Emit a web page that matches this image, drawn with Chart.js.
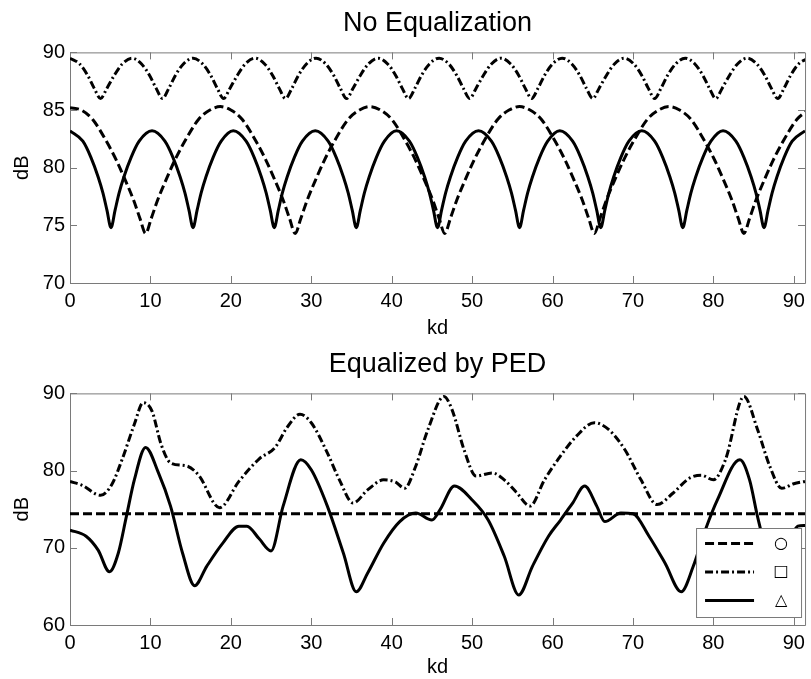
<!DOCTYPE html>
<html>
<head>
<meta charset="utf-8">
<script src="https://cdn.jsdelivr.net/npm/chart.js@4.4.1/dist/chart.umd.min.js"></script>
<style>
    html, body { margin: 0; padding: 0; background: #fff; }
    canvas { display: block; }
</style>
</head>
<body>
<canvas id="chart-top" width="811" height="340"></canvas>
<canvas id="chart-bottom" width="811" height="339"></canvas>
<script>
// --- axes ---
const kdMax = 91.4;
const kdTicks = [0, 10, 20, 30, 40, 50, 60, 70, 80, 90];
const dbTicksTop = [70, 75, 80, 85, 90];
const dbTicksBottom = [60, 70, 80, 90];

// --- No Equalization ---
const topDashKd = [0, 1.4, 2.8, 4.6, 5.8, 6.7, 7.9, 8.7, 9.4, 10.1, 10.9, 12.1, 13.0, 14.2, 16.0, 17.4, 18.7,
    20.0, 21.4, 23.2, 24.4, 25.3, 26.5, 27.3, 28.0, 28.7, 29.5, 30.7, 31.6, 32.8, 34.6, 36.0, 37.3,
    38.6, 40.0, 41.8, 43.0, 43.9, 45.1, 45.9, 46.6, 47.3, 48.1, 49.3, 50.2, 51.4, 53.2, 54.6, 55.9,
    57.2, 58.6, 60.4, 61.6, 62.5, 63.7, 64.5, 65.2, 65.9, 66.7, 67.9, 68.8, 70.0, 71.8, 73.2, 74.5,
    75.8, 77.2, 79.0, 80.2, 81.1, 82.3, 83.1, 83.8, 84.5, 85.3, 86.5, 87.4, 88.6, 90.4, 91.8];
const topDash = [85.2, 85.0, 84.2, 82.2, 80.6, 79.2, 77.2, 75.6, 74.3, 75.6, 77.2, 79.2, 80.6, 82.2, 84.2, 85.0, 85.3,
    85.0, 84.2, 82.2, 80.6, 79.2, 77.2, 75.6, 74.3, 75.6, 77.2, 79.2, 80.6, 82.2, 84.2, 85.0, 85.3,
    85.0, 84.2, 82.2, 80.6, 79.2, 77.2, 75.6, 74.3, 75.6, 77.2, 79.2, 80.6, 82.2, 84.2, 85.0, 85.3,
    85.0, 84.2, 82.2, 80.6, 79.2, 77.2, 75.6, 74.3, 75.6, 77.2, 79.2, 80.6, 82.2, 84.2, 85.0, 85.3,
    85.0, 84.2, 82.2, 80.6, 79.2, 77.2, 75.6, 74.3, 75.6, 77.2, 79.2, 80.6, 82.2, 84.2, 85.0];

const topDashDotKd = [0, 1.2, 2.2, 3.0, 3.8, 4.6, 5.5, 6.5,
    7.7, 8.9, 9.9, 10.7, 11.5, 12.3, 13.1, 14.1,
    15.3, 16.5, 17.5, 18.3, 19.1, 19.9, 20.8, 21.8,
    23.0, 24.2, 25.2, 26.0, 26.8, 27.6, 28.4, 29.4,
    30.6, 31.8, 32.8, 33.6, 34.4, 35.2, 36.1, 37.1,
    38.3, 39.5, 40.5, 41.3, 42.1, 42.9, 43.7, 44.7,
    45.9, 47.1, 48.1, 48.9, 49.7, 50.5, 51.4, 52.4,
    53.6, 54.8, 55.8, 56.6, 57.4, 58.2, 59.0, 60.0,
    61.2, 62.4, 63.4, 64.2, 65.0, 65.8, 66.7, 67.7,
    68.9, 70.1, 71.1, 71.9, 72.7, 73.5, 74.3, 75.3,
    76.5, 77.7, 78.7, 79.5, 80.3, 81.1, 82.0, 83.0,
    84.2, 85.4, 86.4, 87.2, 88.0, 88.8, 89.6, 90.6, 91.8];
const topDashDot = [89.5, 89.0, 88.0, 86.9, 86.0, 86.9, 88.0, 89.0,
    89.5, 89.0, 88.0, 86.9, 86.0, 86.9, 88.0, 89.0,
    89.5, 89.0, 88.0, 86.9, 86.0, 86.9, 88.0, 89.0,
    89.5, 89.0, 88.0, 86.9, 86.0, 86.9, 88.0, 89.0,
    89.5, 89.0, 88.0, 86.9, 86.0, 86.9, 88.0, 89.0,
    89.5, 89.0, 88.0, 86.9, 86.0, 86.9, 88.0, 89.0,
    89.5, 89.0, 88.0, 86.9, 86.0, 86.9, 88.0, 89.0,
    89.5, 89.0, 88.0, 86.9, 86.0, 86.9, 88.0, 89.0,
    89.5, 89.0, 88.0, 86.9, 86.0, 86.9, 88.0, 89.0,
    89.5, 89.0, 88.0, 86.9, 86.0, 86.9, 88.0, 89.0,
    89.5, 89.0, 88.0, 86.9, 86.0, 86.9, 88.0, 89.0,
    89.5, 89.0, 88.0, 86.9, 86.0, 86.9, 88.0, 89.0, 89.5];

const topSolidKd = [0, 1.6, 2.6, 3.5, 4.1, 4.6, 5.1, 5.6, 6.1, 6.7, 7.6, 8.6,
    10.2, 11.8, 12.8, 13.7, 14.3, 14.8, 15.3, 15.8, 16.3, 16.9, 17.8, 18.8,
    20.3, 21.9, 22.9, 23.8, 24.4, 24.9, 25.4, 25.9, 26.4, 27.0, 27.9, 28.9,
    30.5, 32.1, 33.1, 34.0, 34.6, 35.1, 35.6, 36.1, 36.6, 37.2, 38.1, 39.1,
    40.6, 42.2, 43.2, 44.1, 44.7, 45.2, 45.7, 46.2, 46.7, 47.3, 48.2, 49.2,
    50.8, 52.4, 53.4, 54.3, 54.9, 55.4, 55.9, 56.4, 56.9, 57.5, 58.4, 59.4,
    60.9, 62.5, 63.5, 64.4, 65.0, 65.5, 66.0, 66.5, 67.0, 67.6, 68.5, 69.5,
    71.1, 72.7, 73.7, 74.6, 75.2, 75.7, 76.2, 76.7, 77.2, 77.8, 78.7, 79.7,
    81.2, 82.8, 83.8, 84.7, 85.3, 85.8, 86.3, 86.8, 87.3, 87.9, 88.8, 89.8, 91.4];
const topSolid = [83.2, 82.3, 80.9, 79.2, 77.8, 76.3, 74.8, 76.3, 77.8, 79.2, 80.9, 82.3,
    83.2, 82.3, 80.9, 79.2, 77.8, 76.3, 74.8, 76.3, 77.8, 79.2, 80.9, 82.3,
    83.2, 82.3, 80.9, 79.2, 77.8, 76.3, 74.8, 76.3, 77.8, 79.2, 80.9, 82.3,
    83.2, 82.3, 80.9, 79.2, 77.8, 76.3, 74.8, 76.3, 77.8, 79.2, 80.9, 82.3,
    83.2, 82.3, 80.9, 79.2, 77.8, 76.3, 74.8, 76.3, 77.8, 79.2, 80.9, 82.3,
    83.2, 82.3, 80.9, 79.2, 77.8, 76.3, 74.8, 76.3, 77.8, 79.2, 80.9, 82.3,
    83.2, 82.3, 80.9, 79.2, 77.8, 76.3, 74.8, 76.3, 77.8, 79.2, 80.9, 82.3,
    83.2, 82.3, 80.9, 79.2, 77.8, 76.3, 74.8, 76.3, 77.8, 79.2, 80.9, 82.3,
    83.2, 82.3, 80.9, 79.2, 77.8, 76.3, 74.8, 76.3, 77.8, 79.2, 80.9, 82.3, 83.2];

// --- Equalized by PED ---
const botDashKd = [0, 91.4];
const botDash = [74.4, 74.4];

const botDashDotKd = [0, 1.5, 3.8, 5.2, 6.5, 8, 9.1, 10.2, 11.3, 12.5, 14.5, 16, 18.6, 21, 23.5, 25.5, 27, 28.6,
    30, 32, 33.5, 35.2, 37, 39, 40.5, 41.6, 43, 44.5, 46.5, 47.5, 49, 50.5, 52.5, 54, 55.5, 57.2,
    59, 61, 63, 65.2, 67, 69, 71, 73, 75, 77, 78.5, 80, 81.5, 83.8, 85.5, 87, 88.5, 90, 91.4];
const botDashDot = [78.6, 78.1, 76.8, 78.2, 81.5, 86.0, 88.8, 87.7, 83.5, 81.0, 80.6, 79.4, 75.2, 78.6, 81.5, 83.0, 85.6, 87.3,
    86.2, 82.3, 78.8, 75.8, 77.5, 78.8, 78.5, 77.7, 80.6, 85.3, 89.6, 87.9, 82.7, 79.3, 79.7, 78.8, 77.2, 75.4,
    78.8, 81.9, 84.5, 86.2, 85.3, 82.7, 78.8, 75.6, 77.1, 79.0, 79.4, 78.8, 81.4, 89.6, 85.3, 80.6, 77.7, 78.3, 78.6];

const botSolidKd = [0, 2, 3.5, 4.9, 6, 7, 8, 9.4, 11, 12.5, 14, 15.5, 17, 19, 21, 22, 23.5, 25, 26.5, 28.7,
    30, 32, 34, 35.6, 37, 39, 41, 43, 45, 46, 47.8, 50, 52, 54, 55.8, 57.5, 59.5, 61, 62.5, 64,
    65.5, 66.5, 68.5, 70, 72, 74, 76, 77.5, 79, 80.5, 83.3, 84.5, 85.5, 86.5, 87.8, 89.5, 90.5, 91.4];
const botSolid = [72.3, 71.5, 69.7, 66.9, 69.3, 74.0, 78.8, 83.0, 79.7, 75.4, 69.3, 65.1, 67.6, 70.6, 72.8, 72.8, 71.2, 69.6, 75.4, 81.4,
    80.1, 75.4, 69.3, 64.3, 66.7, 70.6, 73.4, 74.5, 73.6, 74.9, 78.0, 76.2, 73.6, 68.9, 63.9, 67.6, 71.5, 73.6, 75.8, 78.0,
    75.4, 73.4, 74.5, 74.4, 71.5, 68.0, 64.3, 67.6, 72.3, 76.2, 81.4, 78.8, 74.0, 70.0, 67.5, 71.0, 72.8, 72.9];

// --- 스타일 ---
const FONT = 'Arial, "Liberation Sans", Helvetica, sans-serif';
const AXIS_GRAY = '#7a7a7a';
const DASH = [9, 4];
const DASH_DOT = [8, 3, 2, 3];

function lineSet(label, xs, ys, dash) {
    return {
        label,
        data: xs.map((x, i) => ({ x, y: ys[i] })),
        borderColor: '#000',
        borderWidth: 3,
        borderDash: dash,
        borderCapStyle: 'butt',
        pointRadius: 0,
        cubicInterpolationMode: 'monotone',
        fill: false
    };
}

// 안쪽 눈금 + 테두리 (MATLAB 스타일)
const frameTicks = {
    id: 'frameTicks',
    beforeDatasetsDraw(chart) {
        const { ctx, chartArea: a, scales: { x, y } } = chart;
        const len = 7;
        ctx.save();
        ctx.strokeStyle = AXIS_GRAY;
        ctx.lineWidth = 1;
        ctx.beginPath();
        ctx.rect(a.left + 0.5, a.top + 0.5, a.right - a.left, a.bottom - a.top);
        x.ticks.forEach(t => {
            const px = Math.round(x.getPixelForValue(t.value)) + 0.5;
            ctx.moveTo(px, a.bottom); ctx.lineTo(px, a.bottom - len);
            ctx.moveTo(px, a.top); ctx.lineTo(px, a.top + len);
        });
        y.ticks.forEach(t => {
            const py = Math.round(y.getPixelForValue(t.value)) + 0.5;
            ctx.moveTo(a.left, py); ctx.lineTo(a.left + len, py);
            ctx.moveTo(a.right, py); ctx.lineTo(a.right - len, py);
        });
        ctx.stroke();
        ctx.restore();
    }
};

// 그래프 안쪽 오른쪽 아래 범례
const legendBox = {
    id: 'legendBox',
    afterDatasetsDraw(chart) {
        const { ctx, chartArea: a } = chart;
        const w = 105, h = 89;
        const bx = a.right - 4 - w, by = a.bottom - 8 - h;
        ctx.save();
        ctx.fillStyle = '#fff';
        ctx.fillRect(bx, by, w, h);
        ctx.strokeStyle = AXIS_GRAY;
        ctx.lineWidth = 1;
        ctx.strokeRect(bx + 0.5, by + 0.5, w, h);
        chart.data.datasets.forEach((ds, i) => {
            const ly = by + 15.5 + i * 28.5;
            ctx.strokeStyle = ds.borderColor;
            ctx.lineWidth = ds.borderWidth;
            ctx.setLineDash(ds.borderDash);
            ctx.beginPath();
            ctx.moveTo(bx + 9, ly);
            ctx.lineTo(bx + 58, ly);
            ctx.stroke();
            ctx.setLineDash([]);
            ctx.fillStyle = '#000';
            ctx.font = '16px "DejaVu Sans", sans-serif';
            ctx.textAlign = 'center';
            ctx.textBaseline = 'middle';
            ctx.fillText(ds.label, bx + 85, ly);
        });
        ctx.restore();
    }
};

function makeChart(id, title, datasets, dbMin, dbMax, dbTicks, xHeight, titlePadTop, plugins) {
    return new Chart(document.getElementById(id), {
        type: 'line',
        data: { datasets },
        plugins: [frameTicks].concat(plugins),
        options: {
            responsive: false,
            animation: false,
            events: [],
            layout: { padding: 0 },
            plugins: {
                legend: { display: false },
                tooltip: { enabled: false },
                title: {
                    display: true,
                    fullSize: false,
                    text: title,
                    color: '#000',
                    font: { family: FONT, size: 27, weight: 'normal' },
                    padding: { top: titlePadTop, bottom: 13 }
                }
            },
            scales: {
                x: {
                    type: 'linear',
                    min: 0,
                    max: kdMax,
                    afterBuildTicks: s => { s.ticks = kdTicks.map(v => ({ value: v })); },
                    afterFit: s => { s.height = xHeight; },
                    grid: { display: false, drawTicks: false },
                    border: { display: false },
                    ticks: { color: '#000', padding: 6, autoSkip: false, maxRotation: 0, font: { family: FONT, size: 20 } },
                    title: { display: true, text: 'kd', color: '#000', padding: 0, font: { family: FONT, size: 20 } }
                },
                y: {
                    min: dbMin,
                    max: dbMax,
                    afterBuildTicks: s => { s.ticks = dbTicks.map(v => ({ value: v })); },
                    afterFit: s => { s.width = 70; },
                    grid: { display: false, drawTicks: false },
                    border: { display: false },
                    ticks: { color: '#000', padding: 5, font: { family: FONT, size: 20 } },
                    title: { display: true, text: 'dB', color: '#000', padding: { top: 10, bottom: 0 }, font: { family: FONT, size: 20 } }
                }
            }
        }
    });
}

makeChart('chart-top', 'No Equalization', [
    lineSet('○', topDashKd, topDash, DASH),
    lineSet('□', topDashDotKd, topDashDot, DASH_DOT),
    lineSet('△', topSolidKd, topSolid, [])
], 70, 90, dbTicksTop, 57, 7, []);

makeChart('chart-bottom', 'Equalized by PED', [
    lineSet('○', botDashKd, botDash, DASH),
    lineSet('□', botDashDotKd, botDashDot, DASH_DOT),
    lineSet('△', botSolidKd, botSolid, [])
], 60, 90, dbTicksBottom, 54, 8, [legendBox]);
</script>
</body>
</html>
